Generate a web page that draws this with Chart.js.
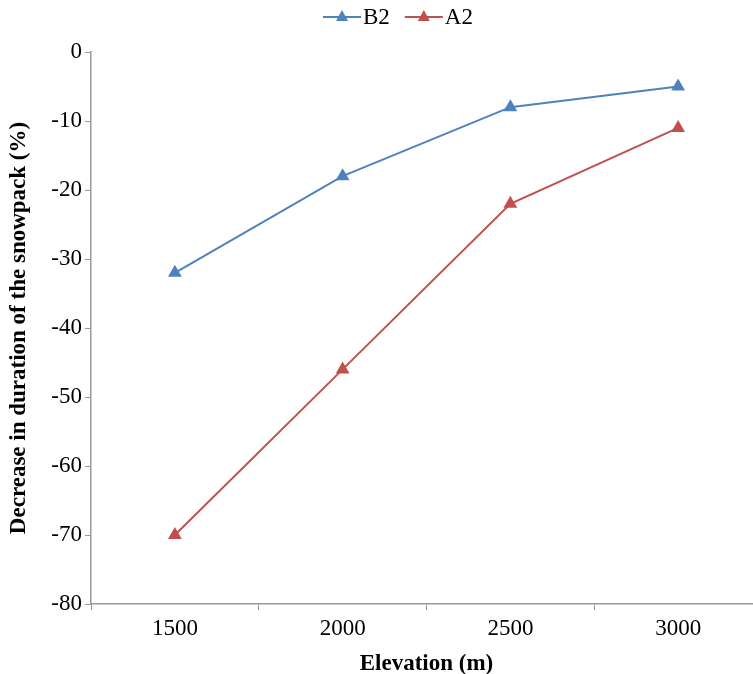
<!DOCTYPE html>
<html>
<head>
<meta charset="utf-8">
<script src="https://cdn.jsdelivr.net/npm/chart.js@4"></script>
<style>
  html, body { margin: 0; padding: 0; background: #fff; overflow: hidden; }
  #wrap { width: 772px; height: 682px; }
</style>
</head>
<body>
<div id="wrap"><canvas id="chart"></canvas></div>
<script>
const elevations = ['1500', '2000', '2500', '3000'];
const b2Values = [-32, -18, -8, -5];
const a2Values = [-70, -46, -22, -11];

const blue = '#4F81BD';
const red = '#C0504D';
const font = 'Liberation Serif';

// legend with line + triangle, like the spreadsheet one
const lineLegend = {
    id: 'lineLegend',
    afterDraw(chart) {
        const ctx = chart.ctx;
        const items = chart.data.datasets.map(d => ({ label: d.label, color: d.borderColor }));
        ctx.save();
        ctx.font = '23px ' + font;
        ctx.textBaseline = 'middle';
        let x = 323;
        const y = 17;
        items.forEach(it => {
            ctx.strokeStyle = it.color;
            ctx.lineWidth = 2;
            ctx.beginPath();
            ctx.moveTo(x, y);
            ctx.lineTo(x + 38, y);
            ctx.stroke();
            ctx.fillStyle = it.color;
            ctx.beginPath();
            ctx.moveTo(x + 19, y - 7);
            ctx.lineTo(x + 25, y + 4);
            ctx.lineTo(x + 13, y + 4);
            ctx.closePath();
            ctx.fill();
            ctx.fillStyle = '#000';
            ctx.fillText(it.label, x + 40, y + 1);
            x += 40 + ctx.measureText(it.label).width + 15;
        });
        ctx.restore();
    }
};

new Chart(document.getElementById('chart'), {
    type: 'line',
    data: {
        labels: elevations,
        datasets: [
            {
                label: 'B2',
                data: b2Values,
                borderColor: blue,
                backgroundColor: blue,
                borderWidth: 2,
                pointStyle: 'triangle',
                pointRadius: 6,
                pointHoverRadius: 6,
                tension: 0
            },
            {
                label: 'A2',
                data: a2Values,
                borderColor: red,
                backgroundColor: red,
                borderWidth: 2,
                pointStyle: 'triangle',
                pointRadius: 6,
                pointHoverRadius: 6,
                tension: 0
            }
        ]
    },
    options: {
        responsive: true,
        maintainAspectRatio: false,
        animation: false,
        layout: { padding: { top: 52, right: 10, left: 0, bottom: 0 } },
        plugins: {
            legend: { display: false },
            tooltip: { enabled: false }
        },
        scales: {
            x: {
                offset: true,
                afterFit(scale) { scale.height = 78; },
                grid: {
                    offset: true,
                    drawOnChartArea: false,
                    tickLength: 6,
                    color: '#999'
                },
                border: { color: '#999', width: 1.5 },
                ticks: { color: '#000', font: { family: font, size: 23 }, padding: 5 },
                title: {
                    display: true,
                    text: 'Elevation (m)',
                    color: '#000',
                    font: { family: font, size: 23, weight: 'bold' },
                    padding: { top: 0 }
                }
            },
            y: {
                min: -80,
                max: 0,
                afterFit(scale) { scale.width = 91; },
                ticks: { stepSize: 10, color: '#000', font: { family: font, size: 23 }, padding: 3 },
                grid: {
                    drawOnChartArea: false,
                    tickLength: 6,
                    color: '#999'
                },
                border: { color: '#999', width: 1.5 },
                title: {
                    display: true,
                    text: 'Decrease in duration of the snowpack (%)',
                    color: '#000',
                    font: { family: font, size: 23, weight: 'bold' },
                    padding: { top: 5 }
                }
            }
        }
    },
    plugins: [lineLegend]
});
</script>
</body>
</html>
